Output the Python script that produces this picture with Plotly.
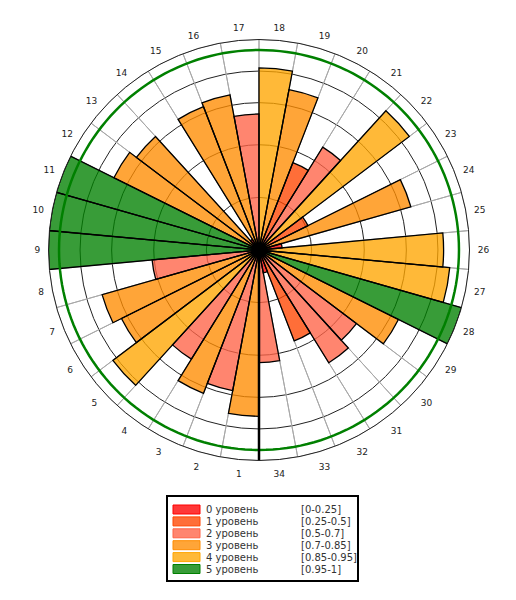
import plotly.graph_objects as go

# -------------------------
# Data: 34 sectors, value per sector (0..1)
# -------------------------
sectors = [str(i) for i in range(1, 35)]
values = [0.79, 0.68, 0.73, 0.61, 0.87, 0.73, 0.775, 0.51, 1.0, 1.0,
          1.0, 0.77, 0.73, 0.06, 0.73, 0.75, 0.646, 0.865, 0.775, 0.445,
          0.575, 0.895, 0.26, 0.75, 0.11, 0.877, 0.91, 1.0, 0.74, 0.58,
          0.63, 0.463, 0.11, 0.535]

# levels
level_names = ["0 уровень", "1 уровень", "2 уровень", "3 уровень", "4 уровень", "5 уровень"]
level_ranges = ["[0-0.25]", "[0.25-0.5]", "[0.5-0.7]", "[0.7-0.85]", "[0.85-0.95]", "[0.95-1]"]
level_bounds = [0, 0.25, 0.5, 0.7, 0.85, 0.95]
grid_levels = [0.25, 0.5, 0.7, 0.85]
target_level = 0.95

# colours (rgb), drawn semi-transparent
level_rgb = ["255,0,0", "255,69,0", "255,99,71", "255,140,0", "255,165,0", "0,128,0"]
ALPHA = 0.78


def level_of(v):
    lvl = 0
    for i, b in enumerate(level_bounds):
        if v >= b:
            lvl = i
    return lvl


n = len(values)
step = 360 / n
centers = [(i + 0.5) * step for i in range(n)]
bar_colors = [f"rgba({level_rgb[level_of(v)]},{ALPHA})" for v in values]

# page coordinates helpers (the page body adds ~8px of margin)
W, H = 516, 600
OFF = 8


def px(x):
    return (x - OFF) / W


def py(y):
    return 1 - (y - OFF) / H


# polar area: centre (259, 250), radius 210.5 in screen pixels
CX, CY, R = 259, 250, 210.5

fig = go.Figure()

# full-length empty sectors -> light border lines between sectors
fig.add_trace(go.Barpolar(
    r=[1] * n,
    theta=centers,
    width=[step] * n,
    marker=dict(color="rgba(0,0,0,0)", line=dict(color="#a8a8a8", width=1)),
    hoverinfo="skip",
    showlegend=False
))

# the bars (fill)
fig.add_trace(go.Barpolar(
    r=values,
    theta=centers,
    width=[step] * n,
    marker=dict(color=bar_colors, line=dict(width=0)),
    customdata=sectors,
    hovertemplate="%{customdata}: %{r}<extra></extra>",
    showlegend=False
))

# the bars (outlines on top)
fig.add_trace(go.Barpolar(
    r=values,
    theta=centers,
    width=[step] * n,
    marker=dict(color="rgba(0,0,0,0)", line=dict(color="black", width=1.3)),
    hoverinfo="skip",
    showlegend=False
))

# green target circle
circle_t = [i for i in range(0, 361, 2)]
fig.add_trace(go.Scatterpolar(
    r=[target_level] * len(circle_t), theta=circle_t, mode="lines",
    line=dict(color="#008000", width=2.5),
    hoverinfo="skip", showlegend=False
))

# thick start line at the bottom
fig.add_trace(go.Scatterpolar(
    r=[0, 1], theta=[0, 0], mode="lines",
    line=dict(color="black", width=2.5),
    hoverinfo="skip", showlegend=False
))

fig.update_layout(
    width=W, height=H,
    margin=dict(l=0, r=0, t=0, b=0),
    paper_bgcolor="white",
    font=dict(family="DejaVu Sans", size=9, color="#222"),
    showlegend=False,
    polar=dict(
        domain=dict(x=[px(CX - R), px(CX + R)], y=[py(CY + R), py(CY - R)]),
        bgcolor="white",
        bargap=0,
        barmode="overlay",
        radialaxis=dict(
            range=[0, 1], tickvals=grid_levels, showticklabels=False,
            ticks="", showline=False, gridcolor="#222", gridwidth=1
        ),
        angularaxis=dict(
            direction="clockwise", rotation=270,
            tickmode="array", tickvals=centers, ticktext=sectors,
            showgrid=False, ticks="outside", ticklen=6,
            tickcolor="rgba(0,0,0,0)", showline=True,
            linecolor="#222", linewidth=1,
            tickfont=dict(size=9, color="#222")
        )
    )
)

# -------------------------
# Legend box (drawn by hand: two text columns)
# -------------------------
row_y = [509.5, 521.4, 533.3, 545.2, 557.1, 569.0]
shapes = [dict(type="rect", xref="paper", yref="paper",
               x0=px(167), x1=px(358), y0=py(581), y1=py(496),
               line=dict(color="black", width=2), fillcolor="white")]
annotations = []
for i, cy in enumerate(row_y):
    shapes.append(dict(
        type="rect", xref="paper", yref="paper",
        x0=px(173), x1=px(200), y0=py(cy + 4.5), y1=py(cy - 4.5),
        fillcolor=f"rgba({level_rgb[i]},{ALPHA})",
        line=dict(color=f"rgb({level_rgb[i]})", width=1)
    ))
    annotations.append(dict(
        x=px(204), y=py(cy), xref="paper", yref="paper",
        text=level_names[i], showarrow=False, xanchor="left", yanchor="middle",
        font=dict(size=10, color="#333")
    ))
    annotations.append(dict(
        x=px(299), y=py(cy), xref="paper", yref="paper",
        text=level_ranges[i], showarrow=False, xanchor="left", yanchor="middle",
        font=dict(size=10, color="#333")
    ))

fig.update_layout(shapes=shapes, annotations=annotations)

fig.write_html("out.html")
